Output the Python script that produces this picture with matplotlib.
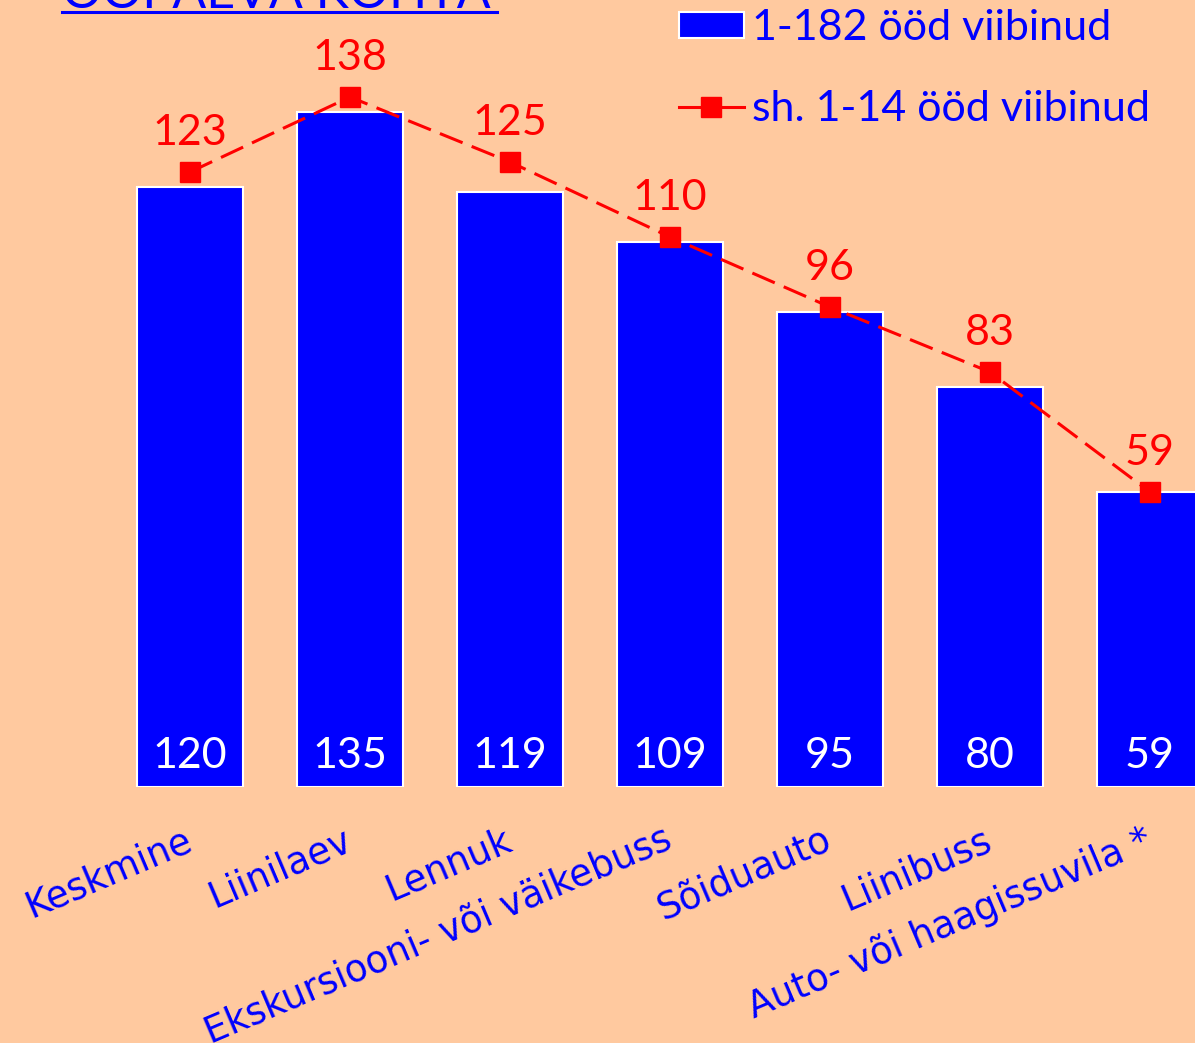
import numpy as np
import matplotlib
matplotlib.use('Agg')
import matplotlib.pyplot as plt
from matplotlib.lines import Line2D
from matplotlib.patches import Patch

# categories and the two series (nights per stay, per overnight)
categories = ['Keskmine', 'Liinilaev', 'Lennuk', 'Ekskursiooni- või väikebuss',
              'Sõiduauto', 'Liinibuss', 'Auto- või haagissuvila *']
long_stay = [120, 135, 119, 109, 95, 80, 59]      # 1-182 ööd viibinud
short_stay = [123, 138, 125, 110, 96, 83, 59]     # sh. 1-14 ööd viibinud
title = 'ÖÖPÄEVA KOHTA'
legend_labels = ['1-182 ööd viibinud', 'sh. 1-14 ööd viibinud']

BG = '#FFC99F'
BLUE = '#0000FF'
RED = '#FF0000'
NUM_FONT = 'Lato'

W, H = 1195, 1043
fig = plt.figure(figsize=(W / 100, H / 100), dpi=100)
fig.patch.set_facecolor(BG)

# axes: bottom at 787 px from top, fills to top and both edges
ax = fig.add_axes([0, (H - 787) / H, 1, 787 / H])
ax.set_facecolor(BG)
x = np.arange(len(categories))

ax.bar(x, long_stay, width=0.66, color=BLUE, edgecolor='white', linewidth=1.5, zorder=2)
ax.plot(x, short_stay, color=RED, lw=2.2, linestyle=(0, (8, 3.2)),
        marker='s', markersize=14.4, zorder=3)

for xi, v in zip(x, long_stay):
    ax.annotate(str(v), (xi, 0), xytext=(0, 13.7), textcoords='offset points',
                ha='center', va='baseline', color='white', fontsize=31,
                family=NUM_FONT, zorder=4)
for xi, v in zip(x, short_stay):
    ax.annotate(str(v), (xi, v), xytext=(0, 19.4), textcoords='offset points',
                ha='center', va='baseline', color=RED, fontsize=31,
                family=NUM_FONT, zorder=4)

ax.set_xlim(-190 / 160, (W - 190) / 160)
ax.set_ylim(0, 787 / 5)
for s in ax.spines.values():
    s.set_visible(False)
ax.set_yticks([])
ax.set_xticks(x)
ax.set_xticklabels(categories, rotation=23, ha='right', va='center',
                   rotation_mode='anchor', color=BLUE, fontsize=26.5,
                   family='DejaVu Sans')
ax.tick_params(axis='x', length=0, pad=37)

handles = [Patch(facecolor=BLUE, edgecolor='white', linewidth=1.5),
           Line2D([], [], color=RED, lw=2.2, marker='s', markersize=14.4)]
leg = ax.legend(handles, legend_labels, loc='upper left',
                bbox_to_anchor=(679 / W, 1 - 9 / H), bbox_transform=fig.transFigure,
                frameon=False, borderpad=0, borderaxespad=0,
                handlelength=1.5, handleheight=0.55, handletextpad=0.2,
                labelspacing=1.0, prop={'family': NUM_FONT, 'size': 31})
for t in leg.get_texts():
    t.set_color(BLUE)

# title sits mostly above the canvas, only its lower part shows
tt = fig.text(62 / W, 1 - 8 / H, title, ha='left', va='baseline',
              color=BLUE, fontsize=36, family=NUM_FONT)
fig.canvas.draw()
bb = tt.get_window_extent()
fig.add_artist(Line2D([bb.x0 / W, 497 / W], [1 - 12 / H, 1 - 12 / H],
                      transform=fig.transFigure, color=BLUE, lw=2.2))

fig.savefig('out.png', dpi=100, facecolor=BG)
